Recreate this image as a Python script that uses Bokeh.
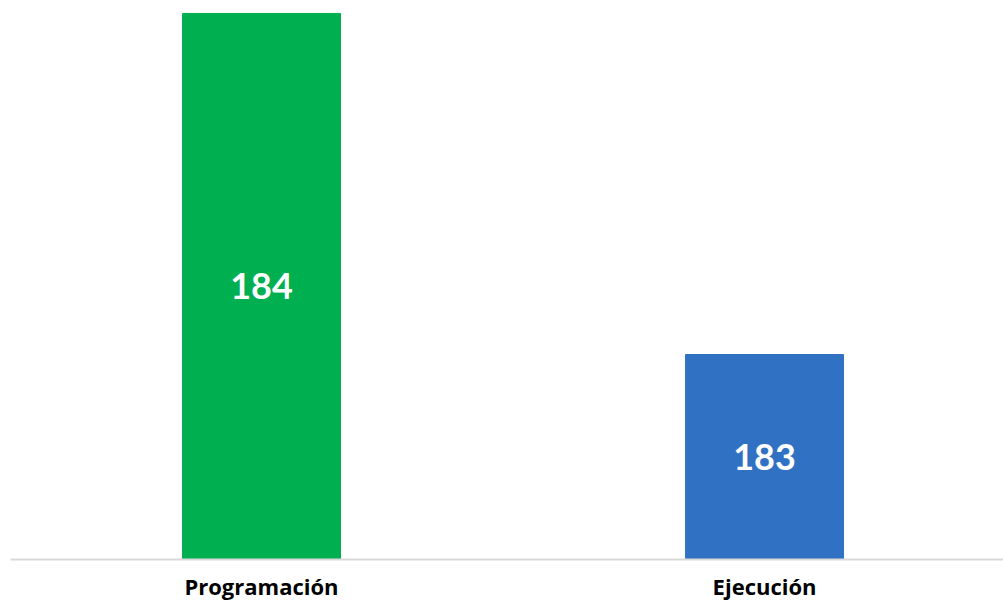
from bokeh.plotting import figure
from bokeh.models import ColumnDataSource, Range1d, FixedTicker
from bokeh.core.properties import value
from bokeh.embed import file_html
from bokeh.resources import INLINE

categories = ["Programación", "Ejecución"]
values = [184, 183]
colors = ["#00AF50", "#3071C3"]

x_pos = list(range(len(categories)))
y_start = 182.399
y_end = 184.038
mid = [(y_start + v) / 2 for v in values]

src = ColumnDataSource(dict(x=x_pos, top=values, color=colors, mid=mid,
                            label=[str(v) for v in values]))

p = figure(frame_width=993, frame_height=559, output_backend="svg", toolbar_location=None,
           x_range=Range1d(-0.499, 1.475), y_range=Range1d(y_start, y_end),
           min_border_left=10, min_border_right=0, min_border_top=0, min_border_bottom=0)

p.vbar(x="x", top="top", bottom=y_start, width=0.314, color="color", source=src)
p.text(x="x", y="mid", text="label", source=src, text_color="white",
       text_font=value("Lato"), text_font_style="bold", text_font_size="36px",
       text_align="center", text_baseline="middle")

p.yaxis.visible = False
p.xgrid.visible = False
p.ygrid.visible = False
p.outline_line_color = None

ax = p.xaxis[0]
ax.ticker = FixedTicker(ticks=x_pos)
ax.major_label_overrides = {i: c for i, c in enumerate(categories)}
ax.major_tick_line_color = None
ax.minor_tick_line_color = None
ax.axis_line_color = "#D9D9D9"
ax.axis_line_width = 2
ax.major_label_text_font = "Open Sans"
ax.major_label_text_font_style = "bold"
ax.major_label_text_font_size = "22px"
ax.major_label_text_color = "#000000"
ax.major_label_standoff = 5

open("out.html", "w").write(file_html(p, INLINE))
